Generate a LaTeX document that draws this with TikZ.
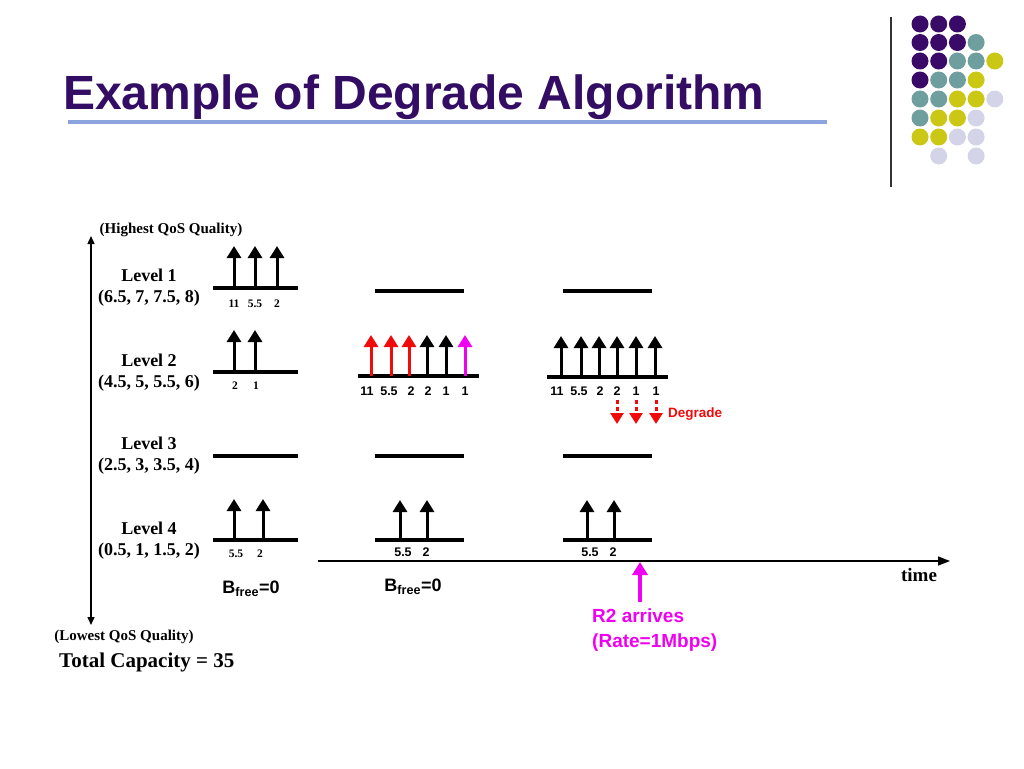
\documentclass[tikz,border=0pt]{standalone}
\usepackage{fontspec}
\setmainfont{Liberation Serif}
\setsansfont{Liberation Sans}
\usetikzlibrary{arrows.meta}
\definecolor{titlepurple}{RGB}{51,12,100}
\definecolor{ulblue}{RGB}{140,164,222}
\definecolor{dpurple}{RGB}{58,10,104}
\definecolor{dteal}{RGB}{110,158,158}
\definecolor{dyellow}{RGB}{202,200,20}
\definecolor{dlav}{RGB}{212,212,232}
\definecolor{mag}{RGB}{240,0,240}
\definecolor{dred}{RGB}{240,10,10}
\tikzset{
  lvl/.style={line width=3.5pt},
  stem/.style={line width=3pt,-{Triangle[width=14pt,length=12pt]}},
  rtxt/.style={font=\fontsize{18}{20}\selectfont\bfseries, align=center, inner sep=0pt},
  qos/.style={font=\fontsize{15}{17}\selectfont\bfseries, inner sep=0pt},
  slab/.style={font=\fontsize{11.5}{12}\selectfont\bfseries, inner sep=0pt},
  alab/.style={font=\sffamily\fontsize{12.5}{14}\selectfont\bfseries, inner sep=0pt},
  bfree/.style={font=\sffamily\fontsize{18}{20}\selectfont\bfseries, inner sep=0pt},
  dot/.style={circle, inner sep=0pt, minimum size=17pt},
}
\begin{document}
\begin{tikzpicture}[x=1pt,y=-1pt]
\useasboundingbox (0,0) rectangle (1024,768);
% title
\node[anchor=base west, inner sep=0pt, text=titlepurple, font=\sffamily\fontsize{48}{50}\selectfont\bfseries] (title) at (63,109) {Example of Degrade Algorithm};
\coordinate (ul1) at (68,122); \coordinate (ul2) at (827,122);
\draw[ulblue, line width=4pt] (ul1) -- (ul2);
% decoration
\coordinate (vl1) at (891,17); \coordinate (vl2) at (891,187);
\draw[black!80, line width=1.3pt] (vl1) -- (vl2);
\foreach \c [count=\i from 0] in {dpurple,dpurple,dpurple}
  \node[dot, fill=\c] (d0\i) at (920+\i*18.7,24) {};
\foreach \c [count=\i from 0] in {dpurple,dpurple,dpurple,dteal}
  \node[dot, fill=\c] (d1\i) at (920+\i*18.7,42.5) {};
\foreach \c [count=\i from 0] in {dpurple,dpurple,dteal,dteal,dyellow}
  \node[dot, fill=\c] (d2\i) at (920+\i*18.7,61) {};
\foreach \c [count=\i from 0] in {dpurple,dteal,dteal,dyellow}
  \node[dot, fill=\c] (d3\i) at (920+\i*18.7,80) {};
\foreach \c [count=\i from 0] in {dteal,dteal,dyellow,dyellow,dlav}
  \node[dot, fill=\c] (d4\i) at (920+\i*18.7,99) {};
\foreach \c [count=\i from 0] in {dteal,dyellow,dyellow,dlav}
  \node[dot, fill=\c] (d5\i) at (920+\i*18.7,118) {};
\foreach \c [count=\i from 0] in {dyellow,dyellow,dlav,dlav}
  \node[dot, fill=\c] (d6\i) at (920+\i*18.7,137) {};
\node[dot, fill=dlav] (d71) at (938.7,156) {};
\node[dot, fill=dlav] (d73) at (976.1,156) {};
% left axis
\coordinate (ax1) at (91,236); \coordinate (ax2) at (91,625);
\draw[line width=1.4pt, {Triangle[width=7pt,length=8pt]}-{Triangle[width=7pt,length=8pt]}] (ax2) -- (ax1);
\node[qos] (hq) at (171,230) {(Highest QoS Quality)};
\node[qos] (lq) at (124,637) {(Lowest QoS Quality)};
\node[anchor=west, inner sep=0pt, font=\fontsize{21}{23}\selectfont\bfseries] (tc) at (59,662) {Total Capacity = 35};
\node[rtxt] (l1) at (149,287.5) {Level 1\\[1pt](6.5, 7, 7.5, 8)};
\node[rtxt] (l2) at (149,372.5) {Level 2\\[1pt](4.5, 5, 5.5, 6)};
\node[rtxt] (l3) at (149,456) {Level 3\\[1pt](2.5, 3, 3.5, 4)};
\node[rtxt] (l4) at (149,541) {Level 4\\[1pt](0.5, 1, 1.5, 2)};
% column 1
\coordinate (a1l) at (213,288); \coordinate (a1r) at (298,288);
\draw[lvl] (a1l) -- (a1r);
\foreach \x/\t [count=\i] in {234/11,255/5.5,277/2} {
  \coordinate (a1b\i) at (\x,288); \coordinate (a1t\i) at (\x,246);
  \draw[stem] (a1b\i) -- (a1t\i);
  \node[slab] (a1n\i) at (\x,304) {\t};
}
\coordinate (a2l) at (213,372); \coordinate (a2r) at (298,372);
\draw[lvl] (a2l) -- (a2r);
\foreach \x/\t [count=\i] in {234/2,255/1} {
  \coordinate (a2b\i) at (\x,372); \coordinate (a2t\i) at (\x,330);
  \draw[stem] (a2b\i) -- (a2t\i);
  \node[slab] (a2n\i) at (\x+1,386) {\t};
}
\coordinate (a3l) at (213,456); \coordinate (a3r) at (298,456);
\draw[lvl] (a3l) -- (a3r);
\coordinate (a4l) at (213,540); \coordinate (a4r) at (298,540);
\draw[lvl] (a4l) -- (a4r);
\foreach \x/\t/\lx [count=\i] in {234/5.5/236,263/2/260} {
  \coordinate (a4b\i) at (\x,540); \coordinate (a4t\i) at (\x,499);
  \draw[stem] (a4b\i) -- (a4t\i);
  \node[slab] (a4n\i) at (\lx,554) {\t};
}
\node[bfree] (bf1) at (251,589) {B\textsubscript{free}=0};
% column 2
\coordinate (b1l) at (375,291); \coordinate (b1r) at (464,291);
\draw[lvl] (b1l) -- (b1r);
\coordinate (b2l) at (358,376); \coordinate (b2r) at (479,376);
\draw[lvl] (b2l) -- (b2r);
\foreach \x/\t/\c/\lx [count=\i] in {371/11/dred/367,391/5.5/dred/389,409/2/dred/411,427/2/black/428,446/1/black/446,465/1/mag/465} {
  \coordinate (b2b\i) at (\x,376); \coordinate (b2t\i) at (\x,335);
  \draw[stem, draw=\c, fill=\c] (b2b\i) -- (b2t\i);
  \node[alab] (b2n\i) at (\lx,391) {\t};
}
\coordinate (b3l) at (375,456); \coordinate (b3r) at (464,456);
\draw[lvl] (b3l) -- (b3r);
\coordinate (b4l) at (375,540); \coordinate (b4r) at (464,540);
\draw[lvl] (b4l) -- (b4r);
\foreach \x/\t/\lx [count=\i] in {400/5.5/403,427/2/426} {
  \coordinate (b4b\i) at (\x,540); \coordinate (b4t\i) at (\x,500);
  \draw[stem] (b4b\i) -- (b4t\i);
  \node[alab] (b4n\i) at (\lx,552) {\t};
}
\node[bfree] (bf2) at (413,587) {B\textsubscript{free}=0};
% column 3
\coordinate (c1l) at (563,291); \coordinate (c1r) at (652,291);
\draw[lvl] (c1l) -- (c1r);
\coordinate (c2l) at (547,377); \coordinate (c2r) at (668,377);
\draw[lvl] (c2l) -- (c2r);
\foreach \x/\t/\lx [count=\i] in {561/11/557,581/5.5/579,599/2/600,617/2/617,636/1/636,655/1/656} {
  \coordinate (c2b\i) at (\x,377); \coordinate (c2t\i) at (\x,336);
  \draw[stem] (c2b\i) -- (c2t\i);
  \node[alab] (c2n\i) at (\lx,391) {\t};
}
\foreach \x [count=\i] in {617,636,656} {
  \coordinate (dg\i a) at (\x,400); \coordinate (dg\i b) at (\x,424);
  \draw[dred, line width=3pt, dash pattern=on 4pt off 3pt, -{Triangle[width=13pt,length=11pt]}] (dg\i a) -- (dg\i b);
}
\node[anchor=west, inner sep=0pt, text=dred, font=\sffamily\fontsize{13.5}{15}\selectfont\bfseries] (deg) at (668,414) {Degrade};
\coordinate (c3l) at (563,456); \coordinate (c3r) at (652,456);
\draw[lvl] (c3l) -- (c3r);
\coordinate (c4l) at (563,540); \coordinate (c4r) at (652,540);
\draw[lvl] (c4l) -- (c4r);
\foreach \x/\t/\lx [count=\i] in {587/5.5/590,614/2/613} {
  \coordinate (c4b\i) at (\x,540); \coordinate (c4t\i) at (\x,500);
  \draw[stem] (c4b\i) -- (c4t\i);
  \node[alab] (c4n\i) at (\lx,552) {\t};
}
% time axis
\coordinate (t1) at (318,561); \coordinate (t2) at (950,561);
\draw[line width=1.4pt, -{Triangle[width=9pt,length=12pt]}] (t1) -- (t2);
\node[inner sep=0pt, font=\fontsize{19}{21}\selectfont\bfseries] (time) at (919,575) {time};
% R2 arrives
\coordinate (r1) at (640,602); \coordinate (r2) at (640,562);
\draw[mag, line width=4pt, -{Triangle[width=15pt,length=13pt]}] (r1) -- (r2);
\node[anchor=north west, inner sep=0pt, text=mag, align=left, font=\sffamily\fontsize{19}{25}\selectfont\bfseries] (r2t) at (592,609) {R2 arrives\\(Rate=1Mbps)};
\end{tikzpicture}
\end{document}
